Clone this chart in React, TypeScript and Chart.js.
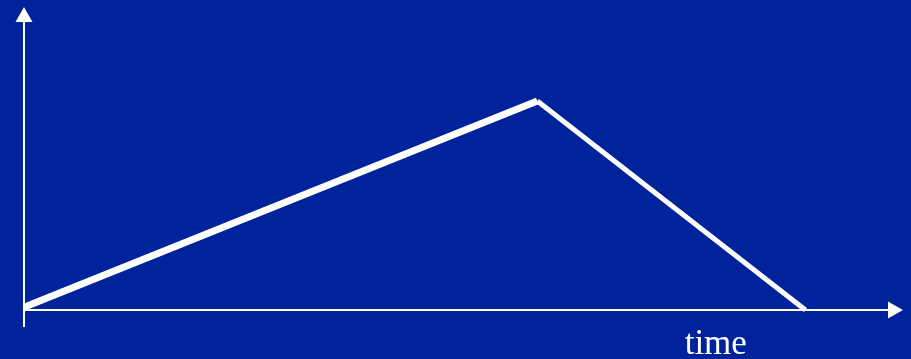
import React, { useEffect, useRef } from "react";
import { Chart, registerables } from "chart.js";

Chart.register(...registerables);

// Values in arbitrary axis units (0..100 on both axes)
const RISE_X = [0, 58.4];
const RISE_Y = [0.9, 69];
const FALL_X = [58.4, 88.9];
const FALL_Y = [69, 0];
const X_LABEL = "time";
const X_LABEL_AT = 78.7;

const BG = "#00229A";
const FG = "#FFFFFF";

const axesPlugin = {
  id: "arrowAxes",
  beforeDraw(chart: any) {
    const ctx = chart.ctx;
    ctx.save();
    ctx.fillStyle = BG;
    ctx.fillRect(0, 0, chart.width, chart.height);
    ctx.restore();
  },
  afterDatasetsDraw(chart: any) {
    const ctx = chart.ctx;
    const xs = chart.scales.x;
    const ys = chart.scales.y;
    const x0 = xs.getPixelForValue(0);
    const y0 = ys.getPixelForValue(0);
    const xEnd = xs.getPixelForValue(xs.max);
    const yEnd = ys.getPixelForValue(ys.max);
    ctx.save();
    ctx.strokeStyle = FG;
    ctx.fillStyle = FG;
    ctx.lineWidth = 2;
    // y axis
    ctx.beginPath();
    ctx.moveTo(x0, y0 + 17);
    ctx.lineTo(x0, yEnd + 14);
    ctx.stroke();
    ctx.beginPath();
    ctx.moveTo(x0, yEnd);
    ctx.lineTo(x0 - 8.5, yEnd + 15);
    ctx.lineTo(x0 + 8.5, yEnd + 15);
    ctx.closePath();
    ctx.fill();
    // x axis
    ctx.beginPath();
    ctx.moveTo(x0, y0);
    ctx.lineTo(xEnd - 14, y0);
    ctx.stroke();
    ctx.beginPath();
    ctx.moveTo(xEnd, y0);
    ctx.lineTo(xEnd - 15, y0 - 8.5);
    ctx.lineTo(xEnd - 15, y0 + 8.5);
    ctx.closePath();
    ctx.fill();
    // label
    ctx.font = '35px "Liberation Serif", "Times New Roman", serif';
    ctx.textAlign = "center";
    ctx.textBaseline = "alphabetic";
    ctx.fillText(X_LABEL, xs.getPixelForValue(X_LABEL_AT), y0 + 44);
    ctx.restore();
  },
};

export default function App() {
  const ref = useRef<HTMLCanvasElement>(null);
  useEffect(() => {
    document.body.style.margin = "0";
    document.body.style.background = BG;
    const chart = new Chart(ref.current!, {
      type: "line",
      data: {
        datasets: [
          {
            data: RISE_X.map((x, i) => ({ x, y: RISE_Y[i] })),
            borderColor: FG,
            borderWidth: 7,
            borderCapStyle: "butt",
            pointRadius: 0,
            clip: false,
          },
          {
            data: FALL_X.map((x, i) => ({ x, y: FALL_Y[i] })),
            borderColor: FG,
            borderWidth: 5,
            borderCapStyle: "butt",
            pointRadius: 0,
            clip: false,
          },
        ],
      },
      options: {
        animation: false,
        responsive: false,
        events: [],
        layout: { padding: { left: 24, top: 7, right: 8, bottom: 49 } },
        plugins: { legend: { display: false }, tooltip: { enabled: false } },
        scales: {
          x: { type: "linear", min: 0, max: 100, display: false },
          y: { type: "linear", min: 0, max: 100, display: false },
        },
      },
      plugins: [axesPlugin],
    } as any);
    return () => chart.destroy();
  }, []);
  return (
    <div style={{ width: 911, height: 359, background: BG }}>
      <canvas ref={ref} width={911} height={359} style={{ display: "block" }} />
    </div>
  );
}
